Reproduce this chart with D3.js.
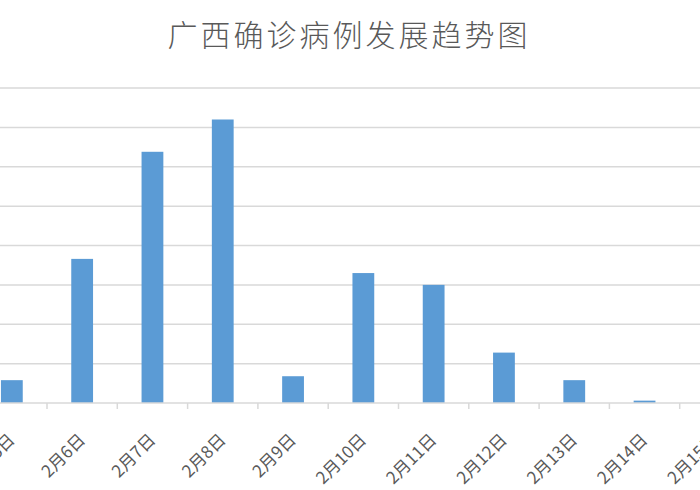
<!DOCTYPE html>
<html>
<head>
<meta charset="utf-8">
<script src="https://cdn.jsdelivr.net/npm/d3@7"></script>
<style>
  body { margin: 0; background: #fff; }
  text { font-family: "Noto Sans CJK SC", "Noto Sans", sans-serif; }
</style>
</head>
<body>
<div id="chart"></div>
<script>
// 广西每日确诊
const dates = ['2月5日', '2月6日', '2月7日', '2月8日', '2月9日', '2月10日',
               '2月11日', '2月12日', '2月13日', '2月14日', '2月15日'];
const cases = [2.9, 18.3, 31.9, 36, 3.4, 16.5, 15, 6.4, 2.9, 0.3, 0];
const gridTicks = [0, 5, 10, 15, 20, 25, 30, 35, 40];

const width = 700;
const height = 490;

const svg = d3.select('#chart')
    .append('svg')
    .attr('width', width)
    .attr('height', height);

// the picture is cropped: first and last categories sit partly off screen
const x = d3.scaleBand()
    .domain(dates)
    .range([-23.3, 750])
    .paddingInner(0.69)
    .paddingOuter(0.345);

const y = d3.scaleLinear()
    .domain([0, 40])
    .range([403, 88]);

svg.append('text')
    .attr('x', 349)
    .attr('y', 46)
    .attr('text-anchor', 'middle')
    .attr('font-size', 30)
    .attr('letter-spacing', 3)
    .attr('font-weight', 300)
    .attr('fill', '#595959')
    .text('广西确诊病例发展趋势图');

// gridlines
svg.append('g')
    .selectAll('line')
    .data(gridTicks.slice(1))
    .enter()
    .append('line')
    .attr('x1', 0)
    .attr('x2', width)
    .attr('y1', d => y(d))
    .attr('y2', d => y(d))
    .attr('stroke', '#d9d9d9')
    .attr('stroke-width', 1.5);

// bars
svg.append('g')
    .selectAll('rect')
    .data(dates)
    .enter()
    .append('rect')
    .attr('x', d => x(d))
    .attr('width', x.bandwidth())
    .attr('y', (d, i) => y(cases[i]))
    .attr('height', (d, i) => y(0) - y(cases[i]))
    .attr('fill', '#5b9bd5');

// axis line + boundary ticks
const half = x.step() * x.paddingInner() / 2;
const axis = svg.append('g');
axis.append('line')
    .attr('x1', 0)
    .attr('x2', width)
    .attr('y1', y(0))
    .attr('y2', y(0))
    .attr('stroke', '#d9d9d9')
    .attr('stroke-width', 1.5);

axis.selectAll('.tick')
    .data(dates)
    .enter()
    .append('line')
    .attr('class', 'tick')
    .attr('x1', d => x(d) - half)
    .attr('x2', d => x(d) - half)
    .attr('y1', y(0))
    .attr('y2', y(0) + 6)
    .attr('stroke', '#d9d9d9')
    .attr('stroke-width', 1.5);

axis.selectAll('.label')
    .data(dates)
    .enter()
    .append('text')
    .attr('class', 'label')
    .attr('text-anchor', 'end')
    .attr('font-size', 17)
    .attr('fill', '#595959')
    .attr('transform', d => `translate(${x(d) + x.bandwidth() / 2 + 4},${y(0) + 38}) rotate(-45)`)
    .text(d => d);
</script>
</body>
</html>
